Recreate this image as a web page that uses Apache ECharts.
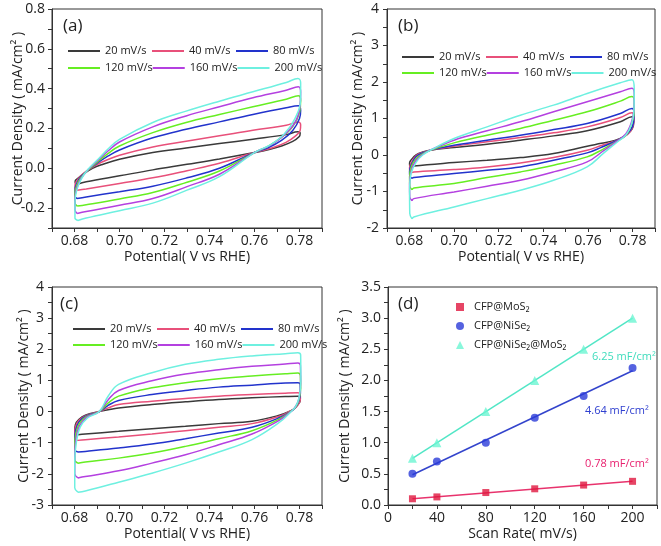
<!DOCTYPE html>
<html>
<head>
<meta charset="utf-8">
<script src="https://cdn.jsdelivr.net/npm/echarts@6/dist/echarts.min.js"></script>
<style>
html,body{margin:0;padding:0;background:#fff;}
#chart{width:661px;height:546px;}
</style>
</head>
<body>
<div id="chart"></div>
<script>
// ---------- DATA ----------
const rateNames = ['20 mV/s','40 mV/s','80 mV/s','120 mV/s','160 mV/s','200 mV/s'];
const rateColors = ['#3a3a3a','#e8507a','#2233cc','#66ee22','#b440e0','#6ef0e0'];

// Panel (a): CV loops [potential V, current mA/cm2]
const a20 = [[0.6812,-0.08],[0.6803,-0.073],[0.6803,-0.064],[0.6815,-0.05],[0.684,-0.028],[0.688,0.0],[0.692,0.018],[0.70,0.045],[0.7148,0.079],[0.7296,0.102],[0.7444,0.124],[0.7593,0.146],[0.7741,0.169],[0.7793,0.183],[0.7803,0.175],[0.7798,0.158],[0.777,0.135],[0.772,0.112],[0.766,0.093],[0.76,0.079],[0.7444,0.047],[0.73,0.02],[0.7148,-0.008],[0.70,-0.038],[0.6852,-0.068],[0.6812,-0.08]];
const a40 = [[0.6812,-0.11],[0.6802,-0.1],[0.6803,-0.08],[0.6815,-0.055],[0.684,-0.025],[0.688,0.005],[0.692,0.03],[0.70,0.065],[0.7148,0.107],[0.7296,0.136],[0.7444,0.163],[0.7593,0.191],[0.7741,0.216],[0.7795,0.232],[0.7805,0.218],[0.7803,0.19],[0.778,0.16],[0.774,0.13],[0.768,0.103],[0.76,0.079],[0.7444,0.025],[0.73,-0.012],[0.7148,-0.048],[0.70,-0.076],[0.6852,-0.104],[0.6812,-0.11]];
const a80 = [[0.6812,-0.152],[0.6802,-0.14],[0.6802,-0.11],[0.681,-0.075],[0.683,-0.04],[0.6865,-0.005],[0.69,0.025],[0.695,0.062],[0.70,0.092],[0.7148,0.153],[0.7296,0.196],[0.7444,0.233],[0.7593,0.27],[0.7741,0.304],[0.7795,0.314],[0.7805,0.29],[0.78,0.25],[0.777,0.19],[0.772,0.14],[0.766,0.103],[0.76,0.079],[0.7444,0.0],[0.73,-0.048],[0.7148,-0.09],[0.70,-0.118],[0.6852,-0.144],[0.6812,-0.152]];
const a120 = [[0.6812,-0.19],[0.6802,-0.175],[0.6802,-0.13],[0.681,-0.085],[0.683,-0.045],[0.686,-0.01],[0.69,0.03],[0.695,0.075],[0.70,0.112],[0.7148,0.179],[0.7296,0.23],[0.7444,0.27],[0.7593,0.309],[0.7741,0.347],[0.7795,0.364],[0.7805,0.34],[0.78,0.28],[0.777,0.21],[0.772,0.155],[0.766,0.11],[0.76,0.079],[0.7444,-0.014],[0.73,-0.07],[0.7148,-0.122],[0.70,-0.154],[0.6852,-0.183],[0.6812,-0.19]];
const a160 = [[0.6812,-0.227],[0.6802,-0.21],[0.6802,-0.15],[0.681,-0.1],[0.683,-0.05],[0.686,-0.008],[0.69,0.035],[0.695,0.088],[0.70,0.132],[0.7148,0.208],[0.7296,0.263],[0.7444,0.309],[0.7593,0.354],[0.7741,0.392],[0.7795,0.409],[0.7805,0.38],[0.7802,0.31],[0.778,0.23],[0.773,0.165],[0.767,0.115],[0.76,0.079],[0.7444,-0.03],[0.73,-0.092],[0.7148,-0.152],[0.70,-0.186],[0.6852,-0.217],[0.6812,-0.227]];
const a200 = [[0.6815,-0.262],[0.6802,-0.25],[0.6802,-0.17],[0.681,-0.11],[0.683,-0.055],[0.686,-0.005],[0.69,0.04],[0.695,0.098],[0.70,0.145],[0.7148,0.23],[0.7296,0.287],[0.7444,0.337],[0.7593,0.384],[0.7741,0.431],[0.7793,0.451],[0.7805,0.43],[0.7805,0.35],[0.778,0.25],[0.773,0.17],[0.767,0.118],[0.76,0.079],[0.7444,-0.042],[0.73,-0.11],[0.7148,-0.175],[0.70,-0.213],[0.6852,-0.25],[0.6815,-0.262]];

// Panel (b)
const b20 = [[0.6812,-0.33],[0.6802,-0.3],[0.6801,-0.22],[0.681,-0.12],[0.683,0.0],[0.686,0.08],[0.69,0.14],[0.70,0.204],[0.7148,0.296],[0.7297,0.406],[0.7446,0.524],[0.7596,0.662],[0.7745,0.909],[0.7797,1.046],[0.7805,0.96],[0.7803,0.8],[0.779,0.65],[0.776,0.5],[0.772,0.4],[0.766,0.32],[0.7596,0.241],[0.7446,0.04],[0.7297,-0.07],[0.7148,-0.143],[0.70,-0.207],[0.682,-0.3],[0.6812,-0.33]];
const b40 = [[0.6812,-0.48],[0.6802,-0.45],[0.6801,-0.35],[0.681,-0.2],[0.683,-0.02],[0.686,0.07],[0.69,0.14],[0.70,0.241],[0.7148,0.36],[0.7297,0.479],[0.7446,0.607],[0.7596,0.771],[0.7745,1.027],[0.7797,1.155],[0.7806,1.05],[0.7804,0.85],[0.779,0.65],[0.776,0.49],[0.772,0.38],[0.766,0.26],[0.7596,0.131],[0.7446,-0.07],[0.7297,-0.216],[0.7148,-0.326],[0.70,-0.399],[0.682,-0.463],[0.6812,-0.48]];
const b80 = [[0.6812,-0.64],[0.6802,-0.58],[0.6801,-0.45],[0.681,-0.25],[0.683,-0.05],[0.686,0.06],[0.69,0.14],[0.70,0.268],[0.7148,0.406],[0.7297,0.543],[0.7446,0.698],[0.7596,0.863],[0.7745,1.137],[0.7797,1.274],[0.7806,1.15],[0.7804,0.9],[0.779,0.68],[0.776,0.5],[0.772,0.37],[0.766,0.21],[0.7596,0.058],[0.7446,-0.143],[0.7297,-0.326],[0.7148,-0.417],[0.70,-0.509],[0.682,-0.619],[0.6812,-0.64]];
const b120 = [[0.6812,-0.95],[0.6802,-0.85],[0.6801,-0.6],[0.681,-0.3],[0.683,-0.1],[0.686,0.04],[0.69,0.14],[0.70,0.332],[0.7148,0.543],[0.7297,0.726],[0.7446,0.954],[0.7596,1.183],[0.7745,1.476],[0.7797,1.6],[0.7807,1.45],[0.7805,1.1],[0.7792,0.8],[0.777,0.55],[0.773,0.38],[0.767,0.17],[0.7596,-0.052],[0.7446,-0.28],[0.7297,-0.463],[0.7148,-0.619],[0.70,-0.783],[0.682,-0.902],[0.6812,-0.95]];
const b160 = [[0.6812,-1.25],[0.6802,-1.15],[0.6801,-0.8],[0.681,-0.4],[0.683,-0.15],[0.686,0.02],[0.69,0.15],[0.70,0.406],[0.7148,0.662],[0.7297,0.909],[0.7446,1.183],[0.7596,1.457],[0.7745,1.732],[0.7797,1.83],[0.7807,1.65],[0.7805,1.2],[0.7792,0.85],[0.777,0.58],[0.773,0.38],[0.767,0.12],[0.7596,-0.189],[0.7446,-0.463],[0.7297,-0.692],[0.7148,-0.856],[0.70,-1.012],[0.682,-1.195],[0.6812,-1.25]];
const b200 = [[0.6812,-1.75],[0.6802,-1.6],[0.6801,-1.0],[0.6808,-0.5],[0.683,-0.2],[0.686,0.0],[0.69,0.15],[0.70,0.451],[0.7148,0.771],[0.7297,1.091],[0.7446,1.366],[0.7596,1.686],[0.7745,1.978],[0.7797,2.06],[0.7807,1.8],[0.7806,1.25],[0.7795,0.85],[0.777,0.55],[0.773,0.35],[0.767,0.05],[0.7596,-0.326],[0.7446,-0.692],[0.7297,-0.966],[0.7148,-1.195],[0.70,-1.423],[0.682,-1.697],[0.6812,-1.75]];

// Panel (c)
const c20 = [[0.6815,-0.742],[0.6801,-0.7],[0.6801,-0.613],[0.6804,-0.42],[0.6819,-0.26],[0.6848,-0.12],[0.691,0.0],[0.695,0.06],[0.6996,0.118],[0.7144,0.226],[0.7293,0.312],[0.7441,0.387],[0.7589,0.441],[0.7737,0.484],[0.7793,0.495],[0.7802,0.45],[0.7803,0.35],[0.779,0.2],[0.7775,0.09],[0.776,0.02],[0.771,-0.12],[0.7589,-0.312],[0.7441,-0.387],[0.7293,-0.473],[0.7144,-0.548],[0.6996,-0.634],[0.6848,-0.72],[0.6815,-0.742]];
const c40 = [[0.6815,-0.925],[0.6801,-0.88],[0.6801,-0.7],[0.6805,-0.48],[0.682,-0.28],[0.685,-0.13],[0.691,0.0],[0.695,0.12],[0.6996,0.226],[0.7144,0.333],[0.7293,0.419],[0.7441,0.495],[0.7589,0.548],[0.7737,0.591],[0.7793,0.602],[0.7803,0.55],[0.7804,0.4],[0.7792,0.2],[0.7775,0.08],[0.776,0.02],[0.771,-0.15],[0.7589,-0.387],[0.7441,-0.505],[0.7293,-0.613],[0.7144,-0.72],[0.6996,-0.817],[0.6848,-0.903],[0.6815,-0.925]];
const c80 = [[0.6815,-1.3],[0.6801,-1.22],[0.6801,-0.95],[0.6805,-0.6],[0.682,-0.33],[0.685,-0.15],[0.691,0.0],[0.695,0.2],[0.6996,0.355],[0.7144,0.548],[0.7293,0.677],[0.7441,0.785],[0.7589,0.849],[0.7737,0.914],[0.7793,0.925],[0.7803,0.87],[0.7804,0.6],[0.7795,0.3],[0.7778,0.1],[0.776,0.0],[0.771,-0.2],[0.7589,-0.505],[0.7441,-0.688],[0.7293,-0.871],[0.7144,-1.043],[0.6996,-1.172],[0.6848,-1.28],[0.6815,-1.3]];
const c120 = [[0.6815,-1.66],[0.6801,-1.55],[0.6801,-1.1],[0.6806,-0.7],[0.6822,-0.38],[0.6852,-0.16],[0.691,0.0],[0.695,0.28],[0.6996,0.495],[0.7144,0.763],[0.7293,0.925],[0.7441,1.054],[0.7589,1.14],[0.7737,1.215],[0.7793,1.24],[0.7804,1.15],[0.7805,0.75],[0.7796,0.35],[0.778,0.12],[0.776,0.0],[0.771,-0.24],[0.7589,-0.613],[0.7441,-0.871],[0.7293,-1.118],[0.7144,-1.333],[0.6996,-1.495],[0.6848,-1.62],[0.6815,-1.66]];
const c160 = [[0.6815,-2.13],[0.6801,-2.0],[0.6801,-1.4],[0.6807,-0.85],[0.6823,-0.45],[0.6855,-0.18],[0.691,0.0],[0.695,0.38],[0.6996,0.677],[0.7144,0.989],[0.7293,1.204],[0.7441,1.344],[0.7589,1.452],[0.7737,1.527],[0.7793,1.56],[0.7804,1.48],[0.7805,0.9],[0.7797,0.4],[0.778,0.13],[0.776,-0.01],[0.771,-0.28],[0.7589,-0.72],[0.7441,-1.065],[0.7293,-1.387],[0.7144,-1.656],[0.6996,-1.903],[0.6848,-2.086],[0.6815,-2.13]];
const c200 = [[0.6815,-2.59],[0.6801,-2.45],[0.6801,-1.6],[0.6808,-1.0],[0.6825,-0.5],[0.6858,-0.2],[0.691,0.0],[0.695,0.5],[0.6996,0.871],[0.7144,1.247],[0.7293,1.516],[0.7441,1.677],[0.7589,1.785],[0.7737,1.86],[0.7793,1.892],[0.7805,1.82],[0.7806,1.0],[0.7798,0.45],[0.7782,0.15],[0.776,-0.02],[0.771,-0.35],[0.7589,-0.9],[0.7441,-1.3],[0.7293,-1.656],[0.7144,-1.978],[0.6996,-2.269],[0.6848,-2.548],[0.6815,-2.59]];

// Panel (d)
const scanRates = [20, 40, 80, 120, 160, 200];
const cfpMoS2 = [0.10, 0.13, 0.20, 0.26, 0.32, 0.38];
const cfpNiSe2 = [0.50, 0.70, 1.00, 1.40, 1.75, 2.20];
const cfpNiSe2MoS2 = [0.75, 1.00, 1.50, 2.00, 2.50, 3.00];
const dNames = ['CFP@MoS\u2082', 'CFP@NiSe\u2082', 'CFP@NiSe\u2082@MoS\u2082'];
const capLabels = ['0.78 mF/cm\u00b2', '4.64 mF/cm\u00b2', '6.25 mF/cm\u00b2'];

// ---------- CHART ----------
const FONT = "'Open Sans', 'DejaVu Sans', sans-serif";
const TXT = '#222';
const chart = echarts.init(document.getElementById('chart'), null, {renderer: 'canvas'});

const grids = [
  {left: 52, top: 9, width: 270, height: 219},
  {left: 387, top: 9, width: 268, height: 219},
  {left: 52, top: 287, width: 270, height: 218},
  {left: 388, top: 287, width: 269, height: 218}
].map(g => Object.assign({show: true, borderColor: '#333', borderWidth: 1, containLabel: false}, g));

function baseAxis(extra) {
  return Object.assign({
    type: 'value',
    axisLine: {show: true, onZero: false, lineStyle: {color: '#333', width: 1}},
    axisTick: {show: true, length: 4, inside: false, lineStyle: {color: '#333'}},
    splitLine: {show: false},
    axisLabel: {color: TXT, fontSize: 14, fontFamily: FONT},
    nameTextStyle: {color: TXT, fontSize: 14, fontFamily: FONT},
    nameLocation: 'middle',
    nameMoveOverlap: false
  }, extra);
}

const potFmt = v => (Math.round(v * 100) % 2 === 0) ? v.toFixed(2) : '';
const xAxes = [0, 1, 2].map(i => baseAxis({
  gridIndex: i, min: 0.67, max: 0.79, interval: 0.01,
  name: 'Potential( V vs RHE)', nameGap: 22,
  axisLabel: {color: TXT, fontSize: 14, fontFamily: FONT, margin: 6, formatter: potFmt}
}));
xAxes.push(baseAxis({
  gridIndex: 3, min: 0, max: 220, interval: 20,
  name: 'Scan Rate( mV/s)', nameGap: 22,
  axisLabel: {color: TXT, fontSize: 14, fontFamily: FONT, margin: 6,
    formatter: v => (Math.round(v) % 40 === 0) ? String(Math.round(v)) : ''}
}));

const yName = 'Current Density ( mA/cm\u00b2 )';
const yAxes = [
  baseAxis({gridIndex: 0, min: -0.3, max: 0.8, interval: 0.1, name: yName, nameGap: 27,
    axisLabel: {color: TXT, fontSize: 14, fontFamily: FONT, margin: 7,
      formatter: v => (Math.round(v * 10) % 2 === 0) ? v.toFixed(1) : ''}}),
  baseAxis({gridIndex: 1, min: -2, max: 4, interval: 0.5, name: yName, nameGap: 22,
    axisLabel: {color: TXT, fontSize: 14, fontFamily: FONT, margin: 8,
      formatter: v => (Math.round(v * 2) % 2 === 0) ? String(Math.round(v)) : ''}}),
  baseAxis({gridIndex: 2, min: -3, max: 4, interval: 0.5, name: yName, nameGap: 21,
    axisLabel: {color: TXT, fontSize: 14, fontFamily: FONT, margin: 8,
      formatter: v => (Math.round(v * 2) % 2 === 0) ? String(Math.round(v)) : ''}}),
  baseAxis({gridIndex: 3, min: 0, max: 3.5, interval: 0.25, name: yName, nameGap: 36,
    axisLabel: {color: TXT, fontSize: 14, fontFamily: FONT, margin: 7,
      formatter: v => (Math.round(v * 4) % 2 === 0) ? v.toFixed(1) : ''}})
];

const panels = [[a20, a40, a80, a120, a160, a200], [b20, b40, b80, b120, b160, b200], [c20, c40, c80, c120, c160, c200]];
const series = [];
panels.forEach((loops, gi) => {
  loops.forEach((d, k) => {
    series.push({
      type: 'line', name: rateNames[k], xAxisIndex: gi, yAxisIndex: gi,
      data: d, symbol: 'none', showSymbol: false, smooth: 0.4,
      color: rateColors[k],
      lineStyle: {width: 1.5, color: rateColors[k]},
      itemStyle: {color: rateColors[k]},
      animation: false, silent: true
    });
  });
});

function linFit(xs, ys) {
  const n = xs.length;
  const mx = xs.reduce((s, v) => s + v, 0) / n;
  const my = ys.reduce((s, v) => s + v, 0) / n;
  let sxy = 0, sxx = 0;
  for (let i = 0; i < n; i++) { sxy += (xs[i] - mx) * (ys[i] - my); sxx += (xs[i] - mx) * (xs[i] - mx); }
  const b = sxy / sxx, a = my - b * mx;
  return [[xs[0], a + b * xs[0]], [xs[n - 1], a + b * xs[n - 1]]];
}

const dSets = [cfpMoS2, cfpNiSe2, cfpNiSe2MoS2];
const dPointColors = ['#e0163e', '#2a3bd8', '#6cf5d2'];
const dLineColors = ['#e8336d', '#3344cc', '#52e6c6'];
const dSymbols = ['rect', 'circle', 'triangle'];
const dSizes = [7, 8, 9];
dSets.forEach((ys, k) => {
  series.push({
    type: 'line', name: 'fit' + k, xAxisIndex: 3, yAxisIndex: 3,
    data: linFit(scanRates, ys), symbol: 'none', showSymbol: false,
    lineStyle: {width: 1.5, color: dLineColors[k]}, itemStyle: {color: dLineColors[k]},
    animation: false, silent: true, z: 2
  });
});
dSets.forEach((ys, k) => {
  series.push({
    type: 'scatter', name: dNames[k], xAxisIndex: 3, yAxisIndex: 3,
    data: scanRates.map((x, i) => [x, ys[i]]),
    symbol: dSymbols[k], symbolSize: dSizes[k],
    itemStyle: {color: dPointColors[k]}, animation: false, silent: true, z: 3
  });
});

function cvLegend(names, left, centerY) {
  return {
    data: names, left: left, top: centerY - 6, width: 300, orient: 'horizontal',
    icon: 'rect', itemWidth: 32, itemHeight: 2, itemGap: 0,
    selectedMode: false,
    textStyle: {color: TXT, fontSize: 11, fontFamily: FONT, width: 47, lineHeight: 12}
  };
}
const legends = [
  cvLegend(rateNames.slice(0, 3), 63, 46), cvLegend(rateNames.slice(3), 63, 63),
  cvLegend(rateNames.slice(0, 3), 397, 52), cvLegend(rateNames.slice(3), 397, 68),
  cvLegend(rateNames.slice(0, 3), 68, 324), cvLegend(rateNames.slice(3), 68, 340),
  {
    data: dNames, left: 451, top: 296, orient: 'vertical',
    itemWidth: 8, itemHeight: 8, itemGap: 7, selectedMode: false,
    textStyle: {color: TXT, fontSize: 11, fontFamily: FONT, lineHeight: 12, padding: [0, 0, 0, 5]}
  }
];

const graphic = [
  {type: 'text', left: 63, top: 18, style: {text: '(a)', fontSize: 17, fontFamily: FONT, fill: TXT}},
  {type: 'text', left: 398, top: 18, style: {text: '(b)', fontSize: 17, fontFamily: FONT, fill: TXT}},
  {type: 'text', left: 60, top: 296, style: {text: '(c)', fontSize: 17, fontFamily: FONT, fill: TXT}},
  {type: 'text', left: 398, top: 296, style: {text: '(d)', fontSize: 17, fontFamily: FONT, fill: TXT}},
  {type: 'text', left: 592, top: 351, style: {text: capLabels[2], fontSize: 11, fontFamily: FONT, fill: '#3fdcbc'}},
  {type: 'text', left: 585, top: 405, style: {text: capLabels[1], fontSize: 11, fontFamily: FONT, fill: '#3040d0'}},
  {type: 'text', left: 585, top: 458, style: {text: capLabels[0], fontSize: 11, fontFamily: FONT, fill: '#e8206e'}}
];

chart.setOption({
  backgroundColor: '#fff',
  animation: false,
  textStyle: {fontFamily: FONT},
  grid: grids,
  xAxis: xAxes,
  yAxis: yAxes,
  legend: legends,
  graphic: graphic,
  series: series
});
</script>
</body>
</html>
